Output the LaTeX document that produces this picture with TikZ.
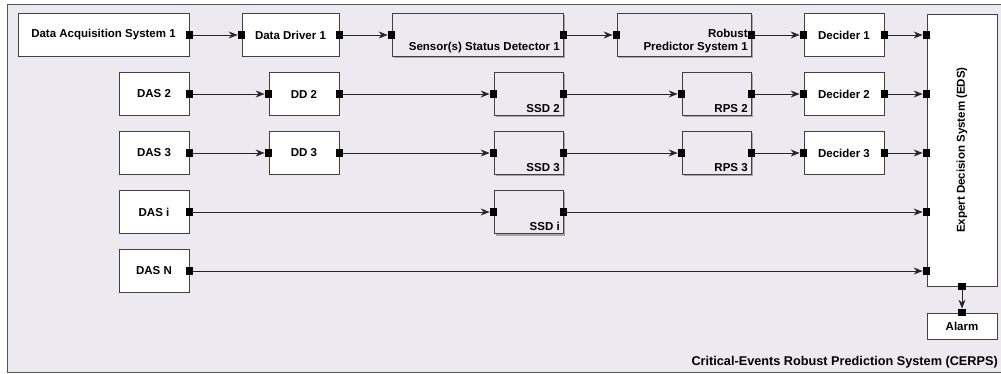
\documentclass[tikz,border=0pt]{standalone}
\usepackage{fontspec}
\setmainfont{Liberation Sans}
\usetikzlibrary{arrows.meta,shadows}
\definecolor{canvas}{HTML}{ECE9F1}
\definecolor{frame}{HTML}{555555}
\begin{document}
\begin{tikzpicture}[x=1pt, y=-1pt, font=\fontsize{11.5}{13}\selectfont\bfseries]
\tikzstyle{block}=[draw=black!75, fill=white, minimum height=43pt, inner sep=0pt, line width=0.8pt]
\tikzstyle{sub}=[block, fill=canvas, drop shadow={shadow xshift=2pt, shadow yshift=-2pt, fill=black!35, opacity=1}]
\tikzstyle{tag}=[anchor=south east, align=right, inner sep=3.5pt]
\tikzstyle{port}=[fill=black, minimum size=7.5pt, inner sep=0pt]
\tikzstyle{link}=[-{Stealth[length=9pt, width=7pt, inset=3pt]}, line width=0.9pt, draw=black!85]
    \useasboundingbox (0,0) rectangle (1001,374);
    \clip (0,0) rectangle (1001,374);
    \draw[frame, fill=canvas, line width=0.8pt] (7,4) rectangle (1010,372);
    % first chain, full names
    \node [block, minimum width=171pt] (das1) at (103.5,35) {Data Acquisition System 1};
    \node [block, minimum width=97pt] (dd1) at (290.5,35) {Data Driver 1};
    \node [sub, minimum width=171pt] (ssd1) at (477.5,35) {};
    \node [tag] (ssd1t) at (ssd1.south east) {Sensor(s) Status Detector 1};
    \node [sub, minimum width=134pt] (rps1) at (684,35) {};
    \node [tag] (rps1t) at (rps1.south east) {Robust\\Predictor System 1};
    \node [block, minimum width=80pt] (dec1) at (844,35) {Decider 1};
    % rows 2 and 3
    \foreach \r/\y in {2/94, 3/153} {
        \node [block, minimum width=70pt] (das\r) at (154,\y) {DAS \r};
        \node [block, minimum width=70pt] (dd\r) at (304,\y) {DD \r};
        \node [sub, minimum width=69pt] (ssd\r) at (528.5,\y) {};
        \node [tag] (ssd\r t) at (ssd\r.south east) {SSD \r};
        \node [sub, minimum width=69pt] (rps\r) at (716.5,\y) {};
        \node [tag] (rps\r t) at (rps\r.south east) {RPS \r};
        \node [block, minimum width=80pt] (dec\r) at (844,\y) {Decider \r};
    }
    \node [block, minimum width=70pt] (dasi) at (154,212) {DAS i};
    \node [sub, minimum width=69pt] (ssdi) at (528.5,212) {};
    \node [tag] (ssdit) at (ssdi.south east) {SSD i};
    \node [block, minimum width=70pt] (dasn) at (154,271) {DAS N};
    % decision system and alarm
    \node [block, minimum width=70pt, minimum height=272pt] (eds) at (962,150) {};
    \node [rotate=90] (edst) at (eds.center) {Expert Decision System (EDS)};
    \node [block, minimum width=70pt, minimum height=26pt] (alarm) at (962,326) {Alarm};
    \node [anchor=east, inner sep=1pt, font=\fontsize{12.7}{14}\selectfont\bfseries] (title) at (999,362) {Critical-Events Robust Prediction System (CERPS)};
    % ports
    \foreach \n in {1,2,3} {
        \node [port] (das\n o) at (das\n.east) {};
        \node [port] (dd\n i) at (dd\n.west) {};
        \node [port] (dd\n o) at (dd\n.east) {};
        \node [port] (ssd\n i) at (ssd\n.west) {};
        \node [port] (ssd\n o) at (ssd\n.east) {};
        \node [port] (rps\n i) at (rps\n.west) {};
        \node [port] (rps\n o) at (rps\n.east) {};
        \node [port] (dec\n i) at (dec\n.west) {};
        \node [port] (dec\n o) at (dec\n.east) {};
        \node [port] (eds\n i) at (eds.west |- dec\n.east) {};
    }
    \node [port] (dasio) at (dasi.east) {};
    \node [port] (ssdii) at (ssdi.west) {};
    \node [port] (ssdio) at (ssdi.east) {};
    \node [port] (edsii) at (eds.west |- ssdi.east) {};
    \node [port] (dasno) at (dasn.east) {};
    \node [port] (edsni) at (eds.west |- dasn.east) {};
    \node [port] (edso) at (eds.south) {};
    \node [port] (alarmi) at (alarm.north) {};
    % connectors
    \foreach \n in {1,2,3} {
        \draw [link] (das\n o) -- (dd\n i);
        \draw [link] (dd\n o) -- (ssd\n i);
        \draw [link] (ssd\n o) -- (rps\n i);
        \draw [link] (rps\n o) -- (dec\n i);
        \draw [link] (dec\n o) -- (eds\n i);
    }
    \draw [link] (dasio) -- (ssdii);
    \draw [link] (ssdio) -- (edsii);
    \draw [link] (dasno) -- (edsni);
    \draw [link] (edso) -- (alarmi);
\end{tikzpicture}
\end{document}
